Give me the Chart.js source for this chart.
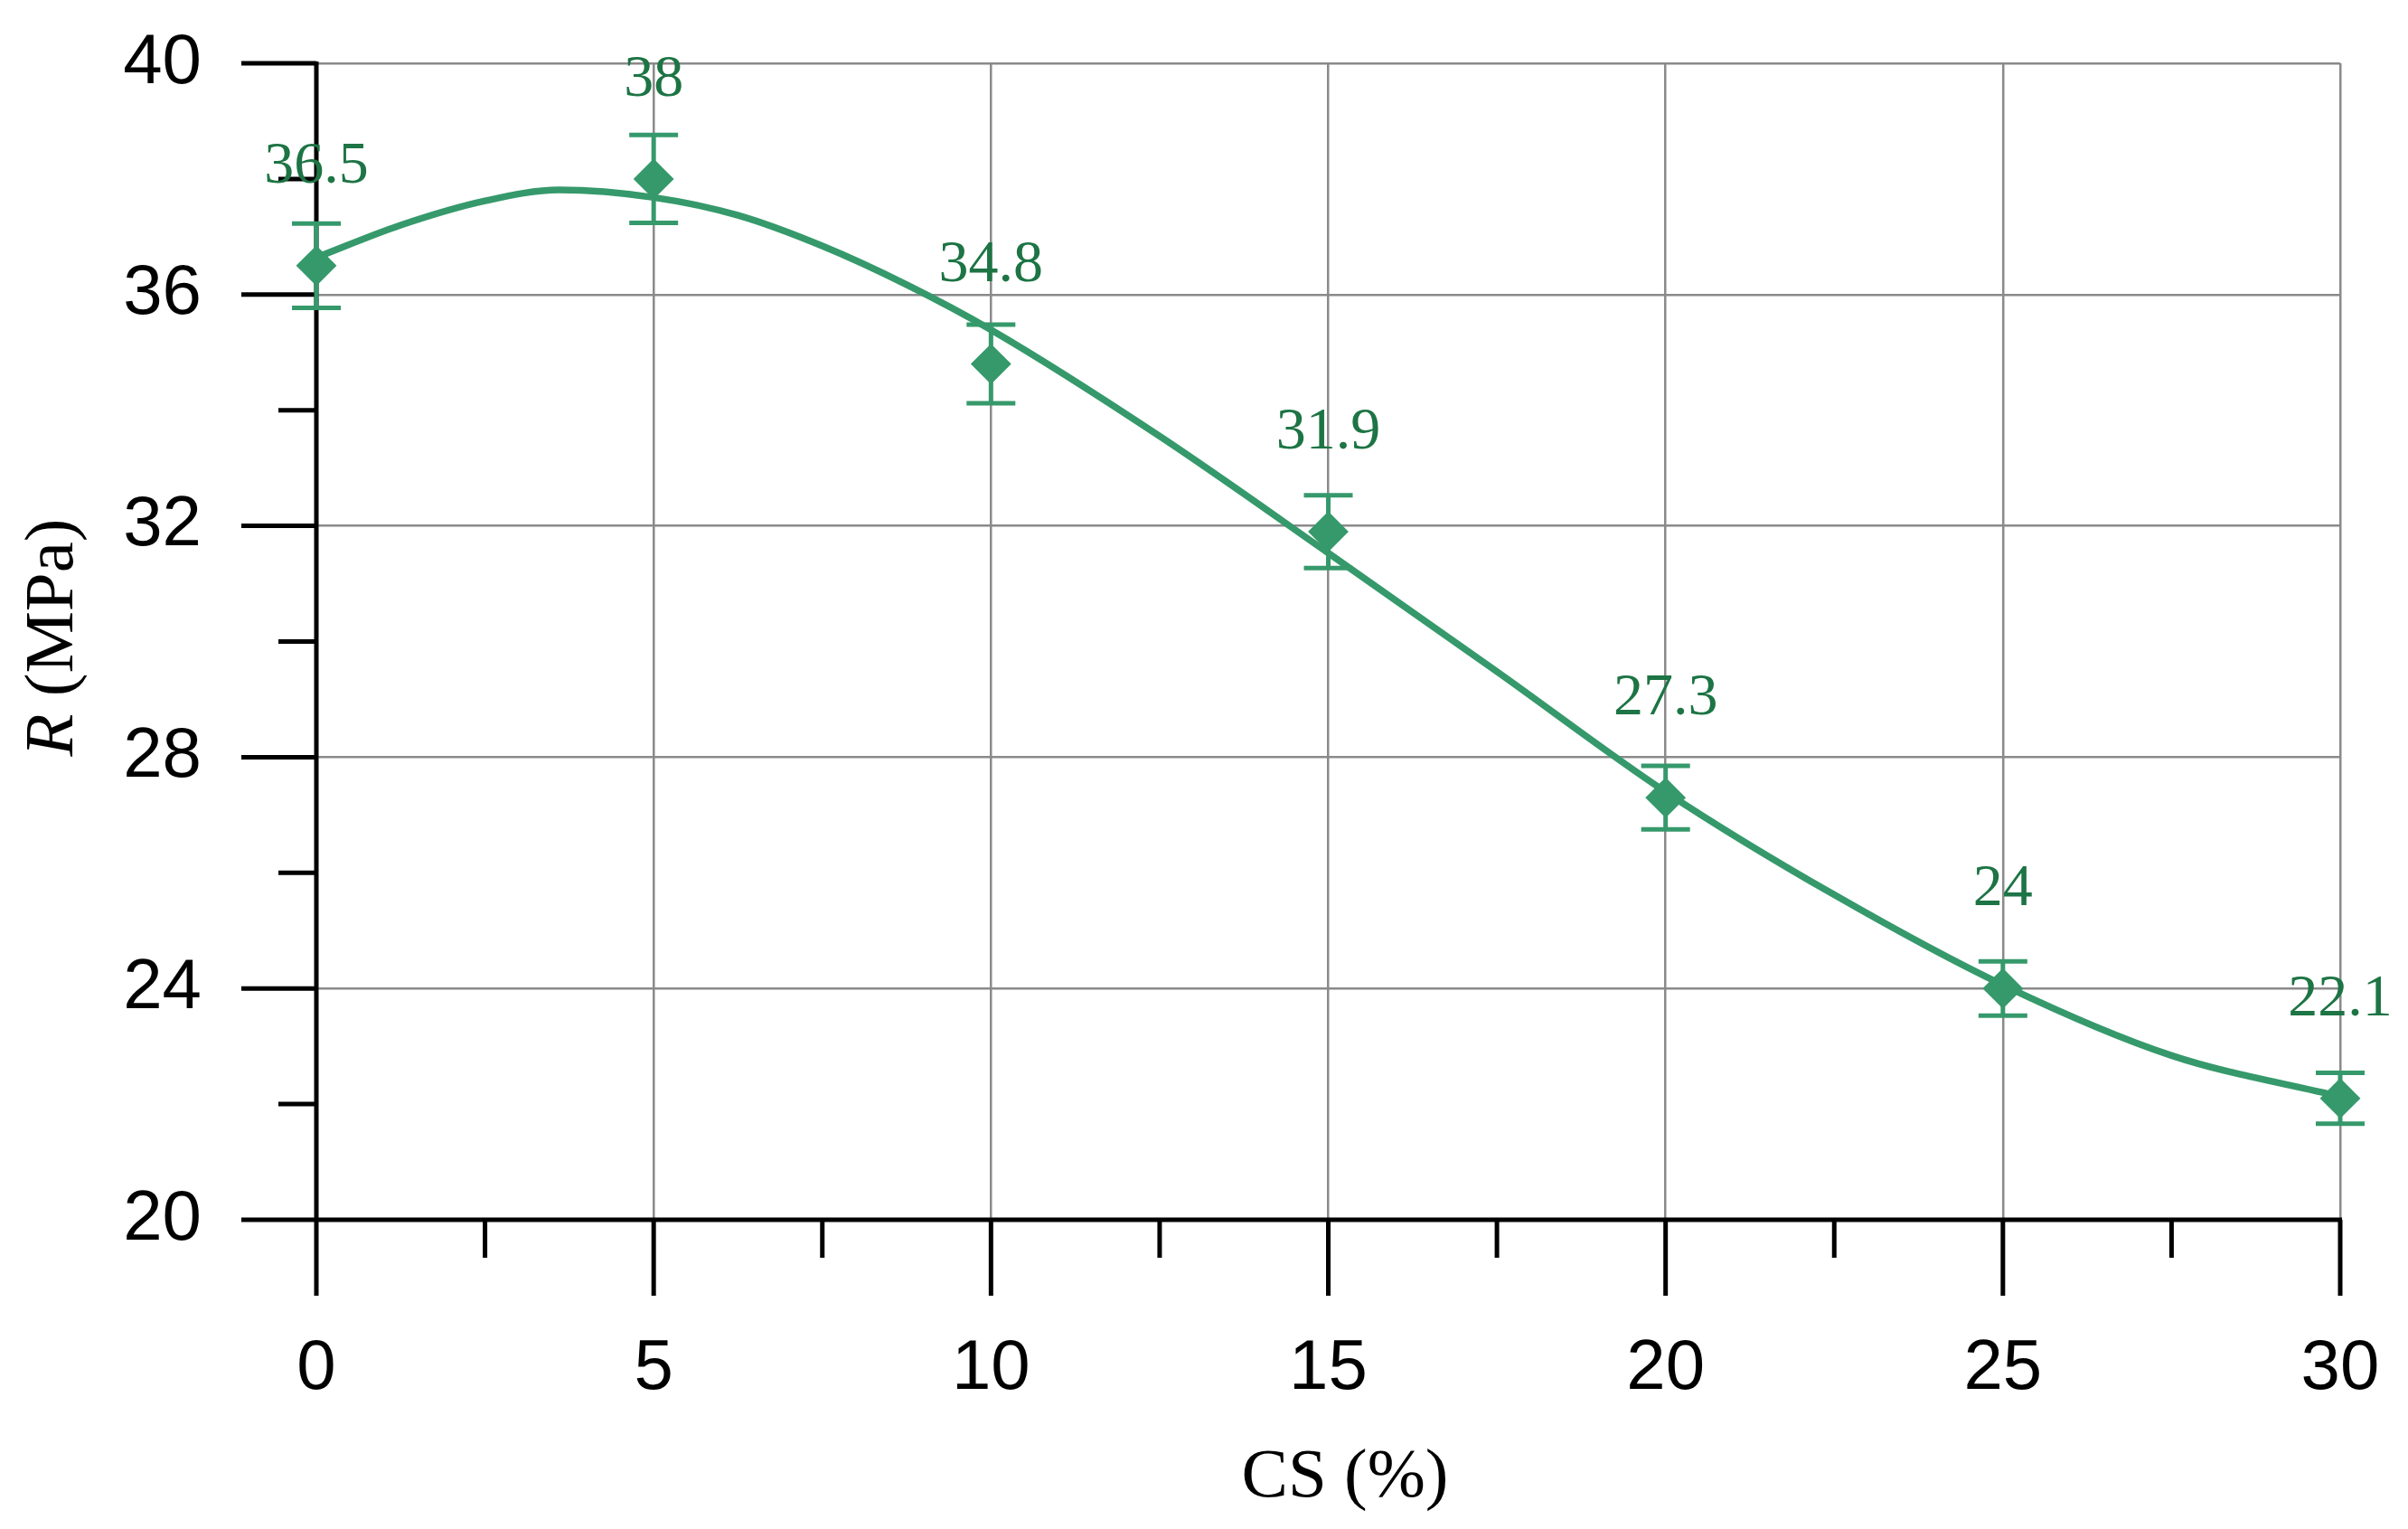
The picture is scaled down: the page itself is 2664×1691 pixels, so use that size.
<!DOCTYPE html>
<html lang="en">
<head>
  <meta charset="utf-8"/>
  <title>R vs CS</title>
  <script src="https://cdn.jsdelivr.net/npm/chart.js"></script>
  <style>
    html, body { margin: 0; padding: 0; background: #fff; }
    #chart { display: block; }
  </style>
</head>
<body>
  <canvas id="chart" width="2664" height="1691"></canvas>
<script>
  // measured points (CS %, R in MPa, error bar half-height)
  const csLevels = [0, 5, 10, 15, 20, 25, 30];
  const strength = [36.5, 38, 34.8, 31.9, 27.3, 24, 22.1];
  const strengthErr = [0.73, 0.76, 0.68, 0.63, 0.55, 0.47, 0.44];
  const pointLabels = ['36.5', '38', '34.8', '31.9', '27.3', '24', '22.1'];

  // trend curve, values
  const fitX = [0, 1.25, 2.5, 3.6, 5, 6.25, 7.5, 8.75, 10, 12.5, 15, 17.5, 20, 22.5, 25, 27.5, 30];
  const fitY = [36.64, 37.2, 37.62, 37.81, 37.68, 37.37, 36.84, 36.17, 35.39, 33.55, 31.53, 29.48, 27.4, 25.62, 24.06, 22.84, 22.13];

  // tick positions
  const xMajor = [0, 5, 10, 15, 20, 25, 30];
  const xMinor = [2.5, 7.5, 12.5, 17.5, 22.5, 27.5];
  const yMajor = [20, 24, 28, 32, 36, 40];
  const yMinor = [22, 26, 30, 34, 38];

  const green = '#36996b';
  const labelGreen = '#1d7444';
  const sansFont = "'Liberation Sans', Arial, sans-serif";
  const serifFont = "'Liberation Serif', 'Times New Roman', serif";

  // black axes with outside ticks, plus error bars under the markers
  const axesAndErrors = {
    id: 'axesAndErrors',
    beforeDatasetsDraw(chart) {
      const { ctx, chartArea: a, scales: { x, y } } = chart;
      ctx.save();
      ctx.strokeStyle = '#000';
      ctx.lineWidth = 5;
      ctx.lineCap = 'butt';
      const seg = (x1, y1, x2, y2) => { ctx.beginPath(); ctx.moveTo(x1, y1); ctx.lineTo(x2, y2); ctx.stroke(); };

      seg(a.left, a.top - 2, a.left, a.bottom);
      seg(a.left, a.bottom, a.right + 2, a.bottom);
      yMajor.forEach(v => { const py = y.getPixelForValue(v); seg(a.left - 83, py, a.left, py); });
      yMinor.forEach(v => { const py = y.getPixelForValue(v); seg(a.left - 42, py, a.left, py); });
      xMajor.forEach(v => { const px = x.getPixelForValue(v); seg(px, a.bottom, px, a.bottom + 84); });
      xMinor.forEach(v => { const px = x.getPixelForValue(v); seg(px, a.bottom, px, a.bottom + 42); });

      // error bars
      ctx.strokeStyle = green;
      ctx.lineWidth = 5;
      csLevels.forEach((c, i) => {
        const px = x.getPixelForValue(c);
        const top = y.getPixelForValue(strength[i] + strengthErr[i]);
        const bot = y.getPixelForValue(strength[i] - strengthErr[i]);
        seg(px, top, px, bot);
        seg(px - 27, top, px + 27, top);
        seg(px - 27, bot, px + 27, bot);
      });
      ctx.restore();
    }
  };

  // value labels above points, and the two axis titles
  const textLayer = {
    id: 'textLayer',
    afterDatasetsDraw(chart) {
      const { ctx, scales: { x, y } } = chart;
      ctx.save();
      ctx.fillStyle = labelGreen;
      ctx.font = '66px ' + serifFont;
      ctx.textAlign = 'center';
      ctx.textBaseline = 'alphabetic';
      csLevels.forEach((c, i) => {
        ctx.fillText(pointLabels[i], x.getPixelForValue(c), y.getPixelForValue(strength[i]) - 92);
      });

      ctx.fillStyle = '#000';
      ctx.font = '77px ' + serifFont;
      ctx.fillText('CS (%)', 1488, 1655);

      // rotated y title with italic R
      ctx.translate(54, 705);
      ctx.rotate(-Math.PI / 2);
      ctx.textAlign = 'left';
      const italic = 'italic 77px ' + serifFont;
      const normal = '77px ' + serifFont;
      ctx.font = italic;
      const wR = ctx.measureText('R').width;
      ctx.font = normal;
      const wRest = ctx.measureText(' (MPa)').width;
      const start = -(wR + wRest) / 2;
      ctx.font = italic;
      ctx.fillText('R', start, 26);
      ctx.font = normal;
      ctx.fillText(' (MPa)', start + wR, 26);
      ctx.restore();
    }
  };

  // fixed axis sizes, no extra padding from edge labels
  function fixBox(size, key) {
    return s => {
      s[key] = size;
      s.paddingTop = 0; s.paddingBottom = 0; s.paddingLeft = 0; s.paddingRight = 0;
    };
  }

  new Chart(document.getElementById('chart'), {
    type: 'scatter',
    data: {
      datasets: [
        {
          type: 'line',
          label: 'trend',
          data: fitX.map((v, i) => ({ x: v, y: fitY[i] })),
          borderColor: green,
          borderWidth: 7.5,
          pointRadius: 0,
          cubicInterpolationMode: 'monotone',
          fill: false,
          clip: false,
          order: 2
        },
        {
          label: 'R',
          data: csLevels.map((v, i) => ({ x: v, y: strength[i] })),
          pointStyle: 'rectRot',
          pointRadius: 21,
          backgroundColor: green,
          borderColor: green,
          borderWidth: 2,
          clip: false,
          order: 1
        }
      ]
    },
    options: {
      responsive: false,
      animation: false,
      devicePixelRatio: 1,
      layout: { padding: { top: 70, right: 75, left: 0, bottom: 0 } },
      plugins: { legend: { display: false }, tooltip: { enabled: false } },
      scales: {
        x: {
          type: 'linear',
          min: 0,
          max: 30,
          ticks: { stepSize: 5, padding: 119, color: '#000', font: { family: sansFont, size: 78 } },
          grid: { color: '#8a8a8a', lineWidth: 2.5, drawTicks: false },
          border: { display: false },
          afterFit: fixBox(342, 'height')
        },
        y: {
          type: 'linear',
          min: 20,
          max: 40,
          ticks: { stepSize: 4, padding: 127, color: '#000', font: { family: sansFont, size: 78 } },
          grid: { color: '#8a8a8a', lineWidth: 2.5, drawTicks: false },
          border: { display: false },
          afterFit: fixBox(350, 'width')
        }
      }
    },
    plugins: [axesAndErrors, textLayer]
  });
</script>
</body>
</html>
